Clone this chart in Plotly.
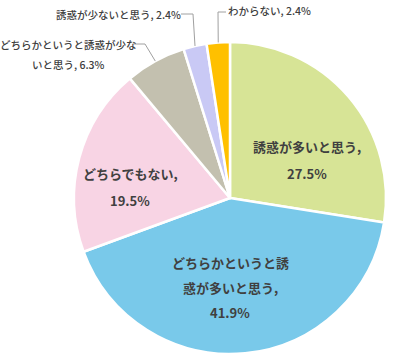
import math
import plotly.graph_objects as go

# ---- data ----
categories = ["誘惑が多いと思う", "どちらかというと誘惑が多いと思う", "どちらでもない",
              "どちらかというと誘惑が少ないと思う", "誘惑が少ないと思う", "わからない"]
values = [27.5, 41.9, 19.5, 6.3, 2.4, 2.4]
label_lines = [
    ["誘惑が多いと思う,", "27.5%"],
    ["どちらかというと誘", "惑が多いと思う,", "41.9%"],
    ["どちらでもない,", "19.5%"],
    ["どちらかというと誘惑が少な", "いと思う, 6.3%"],
    ["誘惑が少ないと思う, 2.4%"],
    ["わからない, 2.4%"],
]

# ---- style / layout ----
W, H = 393, 362
colors = ["#D7E496", "#79C9EA", "#F8D4E4", "#C3C0AF", "#C9C9F5", "#FFC000"]
CX, CY, R = 230, 198, 156          # pie centre / radius in pixels
inside = [True, True, True, False, False, False]
# label centre (pixel) of first line, line spacing
label_pos = [(307, 146, 27), (230, 262, 25), (130, 173, 27),
             (68, 44, 20), (118, 14, 20), (269, 11, 20)]
# leader elbows (pixel): text end -> elbow
leader = {3: [(133, 44), (145, 44)], 4: [(181, 14), (193, 14)], 5: [(226, 12), (218, 12)]}

def px(x):
    return x / W

def py(y):
    return 1 - y / H

fig = go.Figure(go.Pie(
    labels=categories, values=values, sort=False, direction="clockwise", rotation=0,
    marker=dict(colors=colors, line=dict(color="white", width=2.5)),
    textinfo="none", hoverinfo="label+percent",
    domain=dict(x=[px(CX - R), px(CX + R)], y=[py(CY + R), py(CY - R)]),
))

annotations = []
shapes = []
total = sum(values)
cum = 0.0
for i, v in enumerate(values):
    mid = (cum + v / 2) / total * 2 * math.pi
    cum += v
    x0, y0, sp = label_pos[i]
    for k, line in enumerate(label_lines[i]):
        annotations.append(dict(
            x=px(x0), y=py(y0 + k * sp), xref="paper", yref="paper",
            text=line, showarrow=False, xanchor="center", yanchor="middle",
            font=dict(family="Noto Sans CJK JP", size=13 if inside[i] else 10.5,
                      color="#404040", weight="bold" if inside[i] else 500),
        ))
    if i in leader:
        ex = CX + R * math.sin(mid)
        ey = CY - R * math.cos(mid)
        pts = leader[i] + [(ex, ey)]
        for (a, b), (c, d) in zip(pts[:-1], pts[1:]):
            shapes.append(dict(type="line", xref="paper", yref="paper",
                               x0=px(a), y0=py(b), x1=px(c), y1=py(d),
                               line=dict(color="#A0A0A0", width=1)))

fig.update_layout(
    width=W, height=H, margin=dict(l=0, r=0, t=0, b=0),
    paper_bgcolor="white", plot_bgcolor="white", showlegend=False,
    annotations=annotations, shapes=shapes,
)
fig.write_html("out.html", config={"displayModeBar": False},
               post_script="document.body.style.margin='0px';")
